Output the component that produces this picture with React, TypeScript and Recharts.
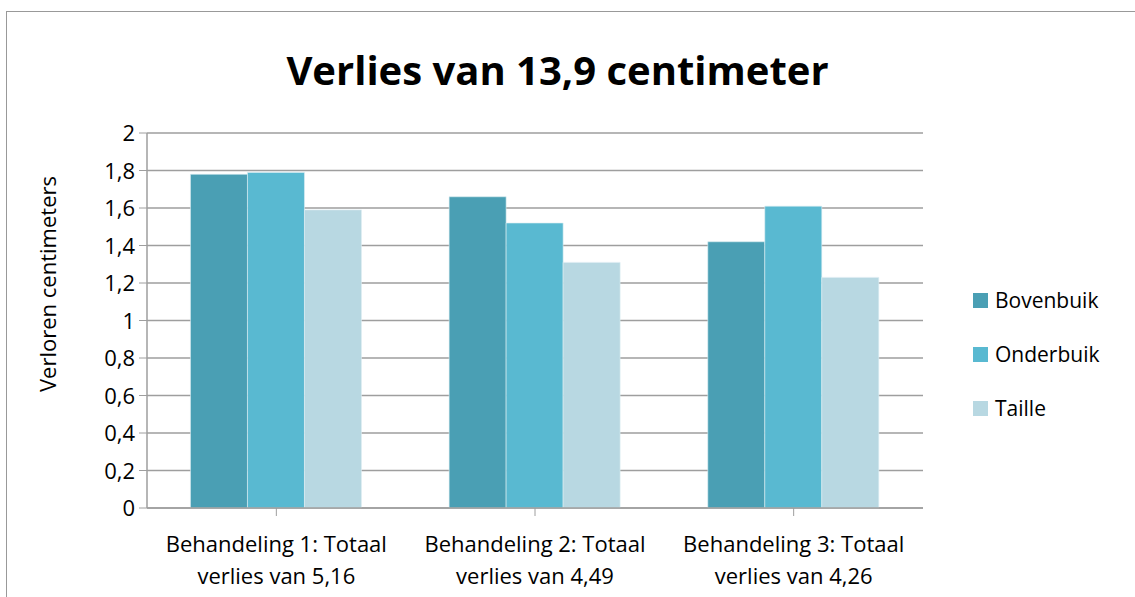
import React from 'react';
import { BarChart, Bar, XAxis, YAxis, CartesianGrid } from 'recharts';

const categories = [
  'Behandeling 1: Totaal\nverlies van 5,16',
  'Behandeling 2: Totaal\nverlies van 4,49',
  'Behandeling 3: Totaal\nverlies van 4,26',
];
const bovenbuik = [1.78, 1.66, 1.42];
const onderbuik = [1.79, 1.52, 1.61];
const taille = [1.59, 1.31, 1.23];
const yTicks = [0, 0.2, 0.4, 0.6, 0.8, 1, 1.2, 1.4, 1.6, 1.8, 2];

const seriesNames = ['Bovenbuik', 'Onderbuik', 'Taille'];
const colors = ['#4A9FB4', '#59B9D1', '#B8D8E2'];

const data = categories.map((c, i) => ({
  name: c,
  Bovenbuik: bovenbuik[i],
  Onderbuik: onderbuik[i],
  Taille: taille[i],
}));

const FONT = '"Open Sans", sans-serif';
const FS = 22;

const renderXTick = (props: any) => {
  const { x, y, payload } = props;
  const lines = String(payload.value).split('\n');
  return (
    <g transform={`translate(${x},${y})`}>
      {lines.map((l, i) => (
        <text key={i} x={0} y={34 + i * 32} textAnchor="middle" fill="#000" fontSize={FS} fontFamily={FONT}>
          {l}
        </text>
      ))}
    </g>
  );
};

const renderYTick = (props: any) => {
  const { x, y, payload } = props;
  return (
    <text x={x - 2} y={y + 8} textAnchor="end" fill="#000" fontSize={FS} fontFamily={FONT}>
      {String(payload.value).replace('.', ',')}
    </text>
  );
};

export default function App() {
  return (
    <div style={{ position: 'absolute', left: 0, top: 0, width: 1135, height: 597, overflow: 'hidden', background: '#fff' }}>
      <div style={{ position: 'absolute', left: 6, top: 11, width: 1200, height: 700, border: '1.5px solid #999', boxSizing: 'border-box' }} />
      <div style={{ position: 'absolute', left: 0, top: 40, width: 1115, textAlign: 'center', fontFamily: FONT, fontWeight: 700, fontSize: 40, color: '#000', lineHeight: '60px' }}>
        Verlies van 13,9 centimeter
      </div>
      <div style={{ position: 'absolute', left: 47, top: 284, transform: 'translate(-50%,-50%) rotate(-90deg)', whiteSpace: 'nowrap', fontFamily: FONT, fontSize: FS, color: '#000' }}>
        Verloren centimeters
      </div>
      <div style={{ position: 'absolute', left: 0, top: 0 }}>
        <BarChart width={1135} height={597} data={data} margin={{ top: 133, right: 212, bottom: 9, left: 87 }} barCategoryGap="16.8%" barGap={0}>
          <CartesianGrid vertical={false} stroke="#9E9E9E" strokeWidth={1.5} />
          <XAxis dataKey="name" tick={renderXTick} tickLine={{ stroke: '#9E9E9E' }} axisLine={{ stroke: '#9E9E9E', strokeWidth: 1.5 }} tickSize={8} interval={0} height={80} />
          <YAxis domain={[0, 2]} ticks={yTicks} tick={renderYTick} tickLine={{ stroke: '#9E9E9E' }} axisLine={{ stroke: '#9E9E9E', strokeWidth: 1.5 }} tickSize={8} width={60} interval={0} />
          {seriesNames.map((n, i) => (
            <Bar key={n} dataKey={n} fill={colors[i]} stroke="#DDEFF4" strokeWidth={0.6} isAnimationActive={false} />
          ))}
        </BarChart>
      </div>
      <div style={{ position: 'absolute', left: 973, top: 273, fontFamily: FONT, fontSize: 21, color: '#000' }}>
        {seriesNames.map((n, i) => (
          <div key={n} style={{ display: 'flex', alignItems: 'center', height: 54 }}>
            <div style={{ width: 15, height: 15, background: colors[i], marginRight: 7 }} />
            <span>{n}</span>
          </div>
        ))}
      </div>
    </div>
  );
}
